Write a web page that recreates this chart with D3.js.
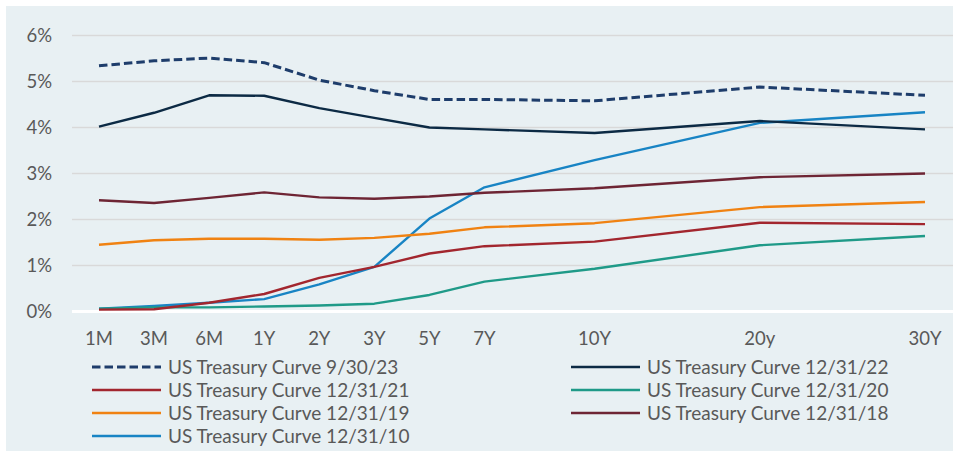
<!DOCTYPE html>
<html>
<head>
<meta charset="utf-8">
<script src="https://cdn.jsdelivr.net/npm/d3@7"></script>
<style>
  body { margin: 0; background: #fff; }
  text { font-family: Lato, "Open Sans", sans-serif; fill: #595959; }
</style>
</head>
<body>
<div id="chart"></div>
<script>
// tenor categories (Excel category axis, blank slots keep the spacing)
const tenors = ["1M", "3M", "6M", "1Y", "2Y", "3Y", "5Y", "7Y", "", "10Y", "", "", "20y", "", "", "30Y"];
const yTicks = [0, 1, 2, 3, 4, 5, 6];

// yields in %, null where the category is blank
const curve2309 = [5.34, 5.45, 5.51, 5.41, 5.03, 4.80, 4.61, 4.61, null, 4.58, null, null, 4.88, null, null, 4.70];
const curve2212 = [4.02, 4.32, 4.70, 4.69, 4.42, 4.21, 4.00, 3.96, null, 3.88, null, null, 4.14, null, null, 3.96];
const curve2112 = [0.04, 0.05, 0.19, 0.38, 0.73, 0.97, 1.26, 1.42, null, 1.52, null, null, 1.93, null, null, 1.90];
const curve2012 = [0.06, 0.09, 0.09, 0.11, 0.13, 0.17, 0.36, 0.65, null, 0.93, null, null, 1.44, null, null, 1.64];
const curve1912 = [1.45, 1.55, 1.58, 1.58, 1.56, 1.60, 1.69, 1.83, null, 1.92, null, null, 2.27, null, null, 2.38];
const curve1812 = [2.42, 2.36, 2.47, 2.59, 2.48, 2.45, 2.50, 2.58, null, 2.68, null, null, 2.92, null, null, 3.00];
const curve1012 = [0.06, 0.12, 0.19, 0.27, 0.59, 0.97, 2.02, 2.70, null, 3.29, null, null, 4.10, null, null, 4.33];

const seriesNames = [
  "US Treasury Curve 9/30/23", "US Treasury Curve 12/31/22",
  "US Treasury Curve 12/31/21", "US Treasury Curve 12/31/20",
  "US Treasury Curve 12/31/19", "US Treasury Curve 12/31/18",
  "US Treasury Curve 12/31/10"
];
const seriesValues = [curve2309, curve2212, curve2112, curve2012, curve1912, curve1812, curve1012];
const seriesColors = ["#1e3d6b", "#0c2a44", "#a2262e", "#1f9a88", "#f08212", "#6e2534", "#1884c4"];
const seriesDash = ["8.5,4", null, null, null, null, null, null];

const W = 953, H = 451;

const svg = d3.select("#chart").append("svg")
  .attr("width", W)
  .attr("height", H);

// panel background
svg.append("rect")
  .attr("x", 6).attr("y", 6)
  .attr("width", W - 6).attr("height", H - 6)
  .attr("fill", "#e8f0f3");

const x = d3.scalePoint()
  .domain(d3.range(tenors.length))
  .range([99, 925]);

const y = d3.scaleLinear()
  .domain([0, 6])
  .range([311.5, 35.5]);

// gridlines
svg.append("g")
  .selectAll("line")
  .data(yTicks.filter(d => d > 0))
  .join("line")
  .attr("x1", 72).attr("x2", W)
  .attr("y1", d => y(d)).attr("y2", d => y(d))
  .attr("stroke", "#d9d9d9")
  .attr("stroke-width", 1.3);

// zero line
svg.append("line")
  .attr("x1", 72).attr("x2", W)
  .attr("y1", y(0)).attr("y2", y(0))
  .attr("stroke", "#ffffff")
  .attr("stroke-width", 3);

// y axis labels
svg.append("g")
  .selectAll("text")
  .data(yTicks)
  .join("text")
  .attr("x", 52)
  .attr("y", d => y(d))
  .attr("dy", "0.35em")
  .attr("text-anchor", "end")
  .attr("font-size", 18.5)
  .text(d => d + "%");

// x axis labels
svg.append("g")
  .selectAll("text")
  .data(tenors.map((t, i) => ({ t, i })).filter(d => d.t !== ""))
  .join("text")
  .attr("x", d => x(d.i))
  .attr("y", 339)
  .attr("dy", "0.35em")
  .attr("text-anchor", "middle")
  .attr("font-size", 18.5)
  .text(d => d.t);

// lines
const line = d3.line()
  .x(d => x(d.i))
  .y(d => y(d.v));

const series = seriesNames.map((name, k) => ({
  name,
  color: seriesColors[k],
  dash: seriesDash[k],
  points: seriesValues[k].map((v, i) => ({ i, v })).filter(d => d.v !== null)
}));

// draw in reverse so the dashed and navy curves sit on top
svg.append("g")
  .selectAll("path")
  .data(series.slice().reverse())
  .join("path")
  .attr("d", d => line(d.points))
  .attr("fill", "none")
  .attr("stroke", d => d.color)
  .attr("stroke-width", d => d.dash ? 3 : 2.4)
  .attr("stroke-dasharray", d => d.dash)
  .attr("stroke-linejoin", "round");

// legend, two columns
const legend = svg.append("g")
  .selectAll("g")
  .data(series)
  .join("g")
  .attr("transform", (d, k) => `translate(${k % 2 === 0 ? 92 : 571},${367 + Math.floor(k / 2) * 23})`);

legend.append("line")
  .attr("x1", 0).attr("x2", 69)
  .attr("stroke", d => d.color)
  .attr("stroke-width", d => d.dash ? 3 : 2.4)
  .attr("stroke-dasharray", d => d.dash);

legend.append("text")
  .attr("x", 76)
  .attr("dy", "0.35em")
  .attr("font-size", 19)
  .text(d => d.name);
</script>
</body>
</html>
